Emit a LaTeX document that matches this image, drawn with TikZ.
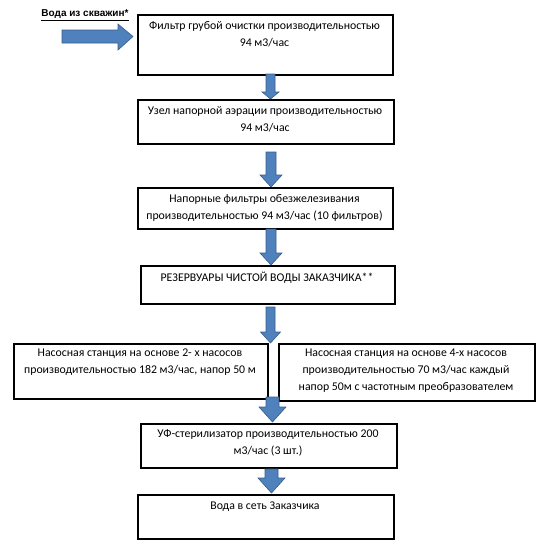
\documentclass[tikz,border=0pt]{standalone}
\usepackage{fontspec}
\setmainfont{Carlito}
\newfontfamily\labfont{Liberation Sans}
\usetikzlibrary{calc}
\definecolor{arrowblue}{HTML}{4F81BD}
\definecolor{arrowedge}{HTML}{385D8A}
\newcommand\blockdown[6]{%
  \filldraw[arrowstyle] (#1-#5,#2) -- (#1+#5,#2) -- (#1+#5,#3) -- (#1+#6,#3) -- (#1,#4) -- (#1-#6,#3) -- (#1-#5,#3) -- cycle;}
\begin{document}
\begin{tikzpicture}[x=1pt,y=-1pt,
  box/.style={draw=black,line width=1.5pt,fill=white,anchor=north west,inner sep=0pt},
  txt/.style={font=\fontsize{11.8}{17}\selectfont,align=center,anchor=north,inner sep=0pt},
  arrowstyle/.style={fill=arrowblue,draw=arrowedge,line width=0.6pt,line join=miter}]
\useasboundingbox (0,0) rectangle (545,557);
% boxes
\node[box,minimum width=255pt,minimum height=60pt] (b1) at (137,14) {};
\node[box,minimum width=256pt,minimum height=44pt] (b2) at (137,99) {};
\node[box,minimum width=255pt,minimum height=41pt] (b3) at (137,187) {};
\node[box,minimum width=254pt,minimum height=38pt] (b4) at (140,265) {};
\node[box,minimum width=254pt,minimum height=55pt] (b5l) at (13,343) {};
\node[box,minimum width=256pt,minimum height=57pt] (b5r) at (278,343) {};
\node[box,minimum width=256pt,minimum height=44pt] (b6) at (140,423) {};
\node[box,minimum width=256pt,minimum height=44pt] (b7) at (137,494) {};
% texts
\node[txt] (t1) at (264.5,21) {Фильтр грубой очистки производительностью\\94 м3/час};
\node[txt] (t2) at (265,106) {Узел напорной аэрации производительностью\\94 м3/час};
\node[txt] (t3) at (264.5,194) {Напорные фильтры обезжелезивания\\производительностью 94 м3/час (10 фильтров)};
\node[txt] (t4) at (267,272) {РЕЗЕРВУАРЫ ЧИСТОЙ ВОДЫ ЗАКАЗЧИКА**};
\node[txt] (t5l) at (140,349) {Насосная станция на основе 2- х насосов\\производительностью 182 м3/час, напор 50 м};
\node[txt] (t5r) at (406,349) {Насосная станция на основе 4-х насосов\\производительностью 70 м3/час каждый\\напор 50м с частотным преобразователем};
\node[txt] (t6) at (268,429) {УФ-стерилизатор производительностью 200\\м3/час (3 шт.)};
\node[txt] (t7) at (265,502) {Вода в сеть Заказчика};
% source label
\node[font=\labfont\bfseries\fontsize{10}{12}\selectfont,inner sep=0pt] (src) at (85,15) {\underline{Вода из скважин*}};
% arrows
\filldraw[arrowstyle] (62,30) -- (118,30) -- (118,24) -- (133,36.5) -- (118,50) -- (118,43) -- (62,43) -- cycle;
\blockdown{270.5}{74}{92}{99}{4.5}{8.5}
\blockdown{271}{152}{175}{187}{5}{11}
\blockdown{271}{229}{253}{265}{5}{11}
\blockdown{270.5}{307}{332}{343}{4.5}{10}
\blockdown{272.5}{397}{407}{422}{6.5}{13.5}
\blockdown{271.5}{469}{478}{493}{6.5}{13.5}
\end{tikzpicture}
\end{document}
